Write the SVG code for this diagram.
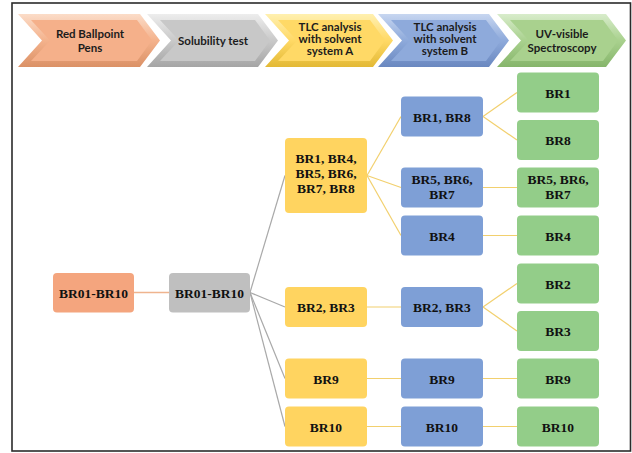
<svg xmlns="http://www.w3.org/2000/svg" width="632" height="453" viewBox="0 0 632 453">
<defs>
<linearGradient id="gO" x1="0" y1="0" x2="0" y2="1"><stop offset="0" stop-color="#FBDCC8"/><stop offset="0.5" stop-color="#F4B28C"/><stop offset="1" stop-color="#DB9166"/></linearGradient>
<linearGradient id="gG" x1="0" y1="0" x2="0" y2="1"><stop offset="0" stop-color="#EDEDED"/><stop offset="0.5" stop-color="#C9C9C9"/><stop offset="1" stop-color="#A5A5A5"/></linearGradient>
<linearGradient id="gY" x1="0" y1="0" x2="0" y2="1"><stop offset="0" stop-color="#FFF0B0"/><stop offset="0.5" stop-color="#FFD966"/><stop offset="1" stop-color="#E3B935"/></linearGradient>
<linearGradient id="gB" x1="0" y1="0" x2="0" y2="1"><stop offset="0" stop-color="#C7D6F0"/><stop offset="0.5" stop-color="#8EAADB"/><stop offset="1" stop-color="#6A88C0"/></linearGradient>
<linearGradient id="gN" x1="0" y1="0" x2="0" y2="1"><stop offset="0" stop-color="#D8ECCB"/><stop offset="0.5" stop-color="#A9D18E"/><stop offset="1" stop-color="#86B56B"/></linearGradient>
</defs>
<style>
.ct{font-family:Lato,"Open Sans","Liberation Sans",sans-serif;font-weight:bold;font-size:11.5px;fill:#1c1c1c;text-anchor:middle}
.nt{font-family:"Liberation Serif","DejaVu Serif",serif;font-weight:bold;font-size:13.5px;fill:#111;text-anchor:middle}
.bx{stroke:none}
.or{fill:#F4A57E}
.gr{fill:#BFBFBF}
.ye{fill:#FFD460}
.bl{fill:#7E9FD6}
.gn{fill:#93CD89}
.cg{stroke:#A9A9A9;stroke-width:1.2;fill:none}
.cy{stroke:#F2D06E;stroke-width:1.2;fill:none}
.co{stroke:#EFB48E;stroke-width:1.5;fill:none}
</style>
<rect x="12" y="3" width="618.5" height="448" fill="#fff" stroke="#2b2b2b" stroke-width="1.6"/>

<!-- header chevrons -->
<g id="stage-pens">
<polygon points="18,14 140,14 160,40.5 140,67 18,67 42,40.5" fill="url(#gO)"/>
<polygon points="31,20 137,20 152,40.5 137,61 31,61 50,40.5" fill="#F5B08A"/>
<text class="ct" x="90" y="37.5">Red Ballpoint</text>
<text class="ct" x="90" y="51.5">Pens</text>
</g>
<g id="stage-solubility">
<polygon points="147,14 258,14 278,40.5 258,67 147,67 171,40.5" fill="url(#gG)"/>
<polygon points="160,20 255,20 270,40.5 255,61 160,61 179,40.5" fill="#C8C8C8"/>
<text class="ct" x="213" y="44.5">Solubility test</text>
</g>
<g id="stage-tlc-a">
<polygon points="265,14 373,14 393,40.5 373,67 265,67 289,40.5" fill="url(#gY)"/>
<polygon points="278,20 370,20 385,40.5 370,61 278,61 297,40.5" fill="#FFD966"/>
<text class="ct" x="330" y="31">TLC analysis</text>
<text class="ct" x="330" y="43">with solvent</text>
<text class="ct" x="330" y="55">system A</text>
</g>
<g id="stage-tlc-b">
<polygon points="378,14 489,14 509,40.5 489,67 378,67 402,40.5" fill="url(#gB)"/>
<polygon points="391,20 486,20 501,40.5 486,61 391,61 410,40.5" fill="#8EAADB"/>
<text class="ct" x="445" y="31">TLC analysis</text>
<text class="ct" x="445" y="43">with solvent</text>
<text class="ct" x="445" y="55">system B</text>
</g>
<g id="stage-uv">
<polygon points="497,14 606,14 626,40.5 606,67 497,67 521,40.5" fill="url(#gN)"/>
<polygon points="510,20 603,20 618,40.5 603,61 510,61 529,40.5" fill="#A9D18E"/>
<text class="ct" x="562" y="38">UV-visible</text>
<text class="ct" x="562" y="51.5">Spectroscopy</text>
</g>

<!-- connectors -->
<g id="connectors">
<line class="co" x1="134" y1="292.5" x2="169" y2="292.5"/>
<line class="cg" x1="250" y1="292.5" x2="285" y2="175.5"/>
<line class="cg" x1="250" y1="292.5" x2="285" y2="307"/>
<line class="cg" x1="250" y1="292.5" x2="285" y2="378.5"/>
<line class="cg" x1="250" y1="292.5" x2="285" y2="426.5"/>
<line class="cy" x1="367" y1="175.5" x2="401" y2="116.5"/>
<line class="cy" x1="367" y1="175.5" x2="401" y2="187.5"/>
<line class="cy" x1="367" y1="175.5" x2="401" y2="235.5"/>
<line class="cy" x1="483" y1="116.5" x2="517" y2="92.5"/>
<line class="cy" x1="483" y1="116.5" x2="517" y2="140"/>
<line class="cy" x1="483" y1="187.5" x2="517" y2="187.5"/>
<line class="cy" x1="483" y1="235.5" x2="517" y2="235.5"/>
<line class="cy" x1="367" y1="307" x2="401" y2="307"/>
<line class="cy" x1="483" y1="307" x2="517" y2="283.5"/>
<line class="cy" x1="483" y1="307" x2="517" y2="331"/>
<line class="cy" x1="367" y1="378.5" x2="401" y2="378.5"/>
<line class="cy" x1="483" y1="378.5" x2="517" y2="378.5"/>
<line class="cy" x1="367" y1="426.5" x2="401" y2="426.5"/>
<line class="cy" x1="483" y1="426.5" x2="517" y2="426.5"/>
</g>

<!-- nodes -->
<g id="n-pens"><rect class="bx or" x="53" y="273" width="81" height="39.5" rx="4"/><text class="nt" x="93.5" y="297.5">BR01-BR10</text></g>
<g id="n-sol"><rect class="bx gr" x="169" y="273" width="81" height="39.5" rx="4"/><text class="nt" x="209.5" y="297.5">BR01-BR10</text></g>

<g id="a-1"><rect class="bx ye" x="285" y="138" width="82" height="75" rx="4"/>
<text class="nt" x="326" y="162.5">BR1, BR4,</text><text class="nt" x="326" y="177.5">BR5, BR6,</text><text class="nt" x="326" y="192.5">BR7, BR8</text></g>
<g id="a-2"><rect class="bx ye" x="285" y="287" width="82" height="40" rx="4"/><text class="nt" x="326" y="312">BR2, BR3</text></g>
<g id="a-3"><rect class="bx ye" x="285" y="358.5" width="82" height="40" rx="4"/><text class="nt" x="326" y="383.5">BR9</text></g>
<g id="a-4"><rect class="bx ye" x="285" y="406.5" width="82" height="40" rx="4"/><text class="nt" x="326" y="431.5">BR10</text></g>

<g id="b-1"><rect class="bx bl" x="401" y="96.5" width="82" height="40" rx="4"/><text class="nt" x="442" y="121.5">BR1, BR8</text></g>
<g id="b-2"><rect class="bx bl" x="401" y="167.5" width="82" height="40" rx="4"/><text class="nt" x="442" y="183.5">BR5, BR6,</text><text class="nt" x="442" y="198.5">BR7</text></g>
<g id="b-3"><rect class="bx bl" x="401" y="215.5" width="82" height="40" rx="4"/><text class="nt" x="442" y="240.5">BR4</text></g>
<g id="b-4"><rect class="bx bl" x="401" y="287" width="82" height="40" rx="4"/><text class="nt" x="442" y="312">BR2, BR3</text></g>
<g id="b-5"><rect class="bx bl" x="401" y="358.5" width="82" height="40" rx="4"/><text class="nt" x="442" y="383.5">BR9</text></g>
<g id="b-6"><rect class="bx bl" x="401" y="406.5" width="82" height="40" rx="4"/><text class="nt" x="442" y="431.5">BR10</text></g>

<g id="u-1"><rect class="bx gn" x="517" y="72.5" width="82" height="40" rx="4"/><text class="nt" x="558" y="97.5">BR1</text></g>
<g id="u-2"><rect class="bx gn" x="517" y="120" width="82" height="40" rx="4"/><text class="nt" x="558" y="145">BR8</text></g>
<g id="u-3"><rect class="bx gn" x="517" y="167.5" width="82" height="40" rx="4"/><text class="nt" x="558" y="183.5">BR5, BR6,</text><text class="nt" x="558" y="198.5">BR7</text></g>
<g id="u-4"><rect class="bx gn" x="517" y="215.5" width="82" height="40" rx="4"/><text class="nt" x="558" y="240.5">BR4</text></g>
<g id="u-5"><rect class="bx gn" x="517" y="263.5" width="82" height="40" rx="4"/><text class="nt" x="558" y="288.5">BR2</text></g>
<g id="u-6"><rect class="bx gn" x="517" y="311" width="82" height="40" rx="4"/><text class="nt" x="558" y="336">BR3</text></g>
<g id="u-7"><rect class="bx gn" x="517" y="358.5" width="82" height="40" rx="4"/><text class="nt" x="558" y="383.5">BR9</text></g>
<g id="u-8"><rect class="bx gn" x="517" y="406.5" width="82" height="40" rx="4"/><text class="nt" x="558" y="431.5">BR10</text></g>
</svg>
